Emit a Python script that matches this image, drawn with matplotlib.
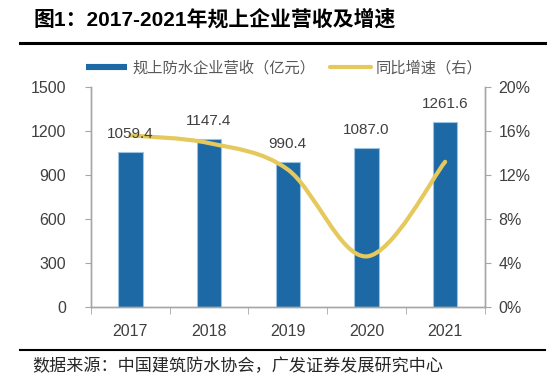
import matplotlib
matplotlib.use("Agg")
import matplotlib.pyplot as plt
from matplotlib.path import Path
from matplotlib.patches import PathPatch
from matplotlib.lines import Line2D
import numpy as np

years = ["2017", "2018", "2019", "2020", "2021"]
revenue = [1059.4, 1147.4, 990.4, 1087.0, 1261.6]
growth = [15.6, 14.9, 12.5, 4.6, 13.2]
left_ticks = [0, 300, 600, 900, 1200, 1500]
right_ticks = [0, 4, 8, 12, 16, 20]

title = "图1：2017-2021年规上企业营收及增速"
source = "数据来源：中国建筑防水协会，广发证券发展研究中心"
bar_label = "规上防水企业营收（亿元）"
line_label = "同比增速（右）"

LAT = ["Liberation Sans", "Noto Sans CJK SC", "DejaVu Sans"]
CJK = ["Noto Sans CJK SC", "DejaVu Sans"]
plt.rcParams["font.family"] = LAT

BAR_C = "#1C69A5"
LINE_C = "#E5C95C"
TXT = "#404040"
AX_C = "#A6A6A6"

fig = plt.figure(figsize=(5.54, 3.82), dpi=100)
ax = fig.add_axes([91 / 554, 1 - 307 / 382, (484.5 - 91) / 554, 220 / 382])
ax2 = ax.twinx()

x = np.arange(len(years))
ax.bar(x, revenue, width=0.31, color=BAR_C, edgecolor="#9CC2E2", linewidth=0.8, zorder=2)
ax.set_xlim(-0.5, len(years) - 0.5)
ax.set_ylim(0, 1500)
ax.set_yticks(left_ticks)
ax.set_yticklabels([str(t) for t in left_ticks])
ax.set_xticks(x)
ax.set_xticklabels(years)
ax.set_xticks(np.arange(-0.5, len(years)), minor=True)

# Smoothed line (Excel-style Bezier through data points)
pts = np.column_stack([x, growth]).astype(float)
n = len(pts)
verts = [tuple(pts[0])]
codes = [Path.MOVETO]
for i in range(n - 1):
    p0 = pts[i - 1] if i > 0 else pts[i]
    p1 = pts[i]
    p2 = pts[i + 1]
    p3 = pts[i + 2] if i + 2 < n else pts[i + 1]
    c1 = p1 + (p2 - p0) / 6.0
    c2 = p2 - (p3 - p1) / 6.0
    verts += [tuple(c1), tuple(c2), tuple(p2)]
    codes += [Path.CURVE4] * 3
ax2.add_patch(PathPatch(Path(verts, codes), facecolor="none", edgecolor=LINE_C,
                        linewidth=3.0, capstyle="round", zorder=3))
ax2.set_ylim(0, 20)
ax2.set_yticks(right_ticks)
ax2.set_yticklabels([f"{t}%" for t in right_ticks])

# data labels drawn above the line
for xi, v in zip(x, revenue):
    ax2.annotate(f"{v:.1f}", (xi, v), xycoords=ax.transData, xytext=(0, 13),
                 textcoords="offset points", ha="center", va="center",
                 fontsize=11, color=TXT, zorder=5)

ax.set_zorder(0)
ax2.set_zorder(1)
ax2.patch.set_visible(False)

for a in (ax, ax2):
    a.spines["top"].set_visible(False)
    for s in ("left", "right", "bottom"):
        a.spines[s].set_color(AX_C)
        a.spines[s].set_linewidth(1.0)
ax.tick_params(axis="y", direction="out", length=4, color=AX_C, labelsize=11.5,
               labelcolor=TXT, pad=14)
ax2.tick_params(axis="y", direction="out", length=4, color=AX_C, labelsize=11.5,
                labelcolor=TXT, pad=6)
ax.tick_params(axis="x", which="major", length=0, labelsize=11.5, labelcolor=TXT, pad=12)
ax.tick_params(axis="x", which="minor", direction="out", length=5, color=AX_C)

# legend
handles = [Line2D([0], [0], color=BAR_C, lw=4.4, solid_capstyle="butt"),
           Line2D([0], [0], color=LINE_C, lw=3.0, solid_capstyle="round")]
fig.legend(handles, [bar_label, line_label], ncol=2, loc="center",
           bbox_to_anchor=(284.5 / 554, 1 - 67.7 / 382), frameon=False,
           prop={"family": CJK, "size": 11}, handlelength=2.65,
           handletextpad=0.35, columnspacing=1.0, labelcolor="#595959")

# title, rules, source
fig.text(33.5 / 554, 1 - 19.5 / 382, title, fontsize=15, fontweight="bold",
         color="#000000", ha="left", va="center", family=LAT)
fig.add_artist(Line2D([20 / 554, 545 / 554], [1 - 43 / 382] * 2, color="black", lw=2.2))
fig.add_artist(Line2D([20 / 554, 545 / 554], [1 - 350 / 382] * 2, color="black", lw=1.5))
fig.text(32.5 / 554, 1 - 366.5 / 382, source, fontsize=12.3, color="#262626",
         ha="left", va="center", family=CJK)

fig.savefig("out.png", dpi=100)
